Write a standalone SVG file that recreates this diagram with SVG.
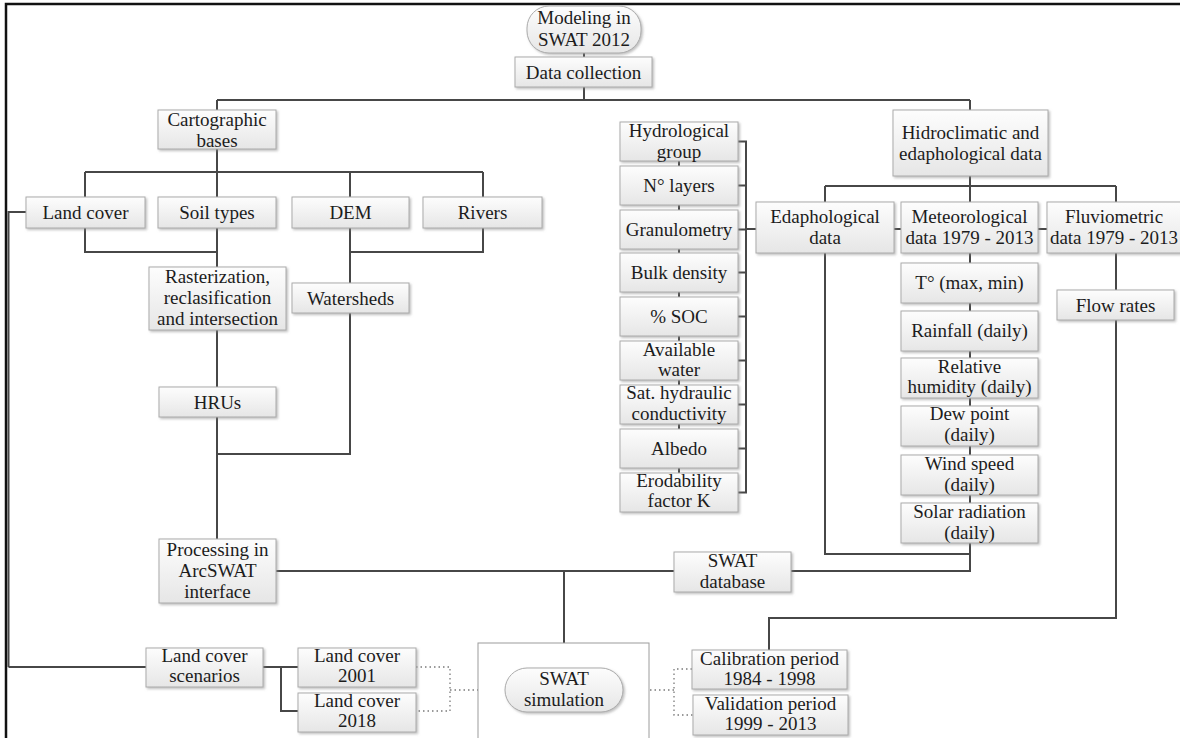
<svg xmlns="http://www.w3.org/2000/svg" width="1180" height="738" viewBox="0 0 1180 738">
<defs>
<linearGradient id="g" x1="0" y1="0" x2="0" y2="1">
<stop offset="0" stop-color="#fdfdfd"/>
<stop offset="1" stop-color="#e6e6e6"/>
</linearGradient>
<filter id="sh" x="-10%" y="-10%" width="130%" height="140%">
<feDropShadow dx="1.5" dy="1.5" stdDeviation="1" flood-color="#8a8a8a" flood-opacity="0.55"/>
</filter>
<style>
.box{fill:url(#g);stroke:#ababab;stroke-width:1;filter:url(#sh)}
.t{font-family:"Liberation Serif","Times New Roman",serif;font-size:19px;fill:#1c1c1c;text-anchor:middle}
.ln{stroke:#474747;stroke-width:2;fill:none}
.dot{stroke:#7a7a7a;stroke-width:1.3;stroke-dasharray:1.5 3;fill:none}
.frame{stroke:#111;stroke-width:2.5;fill:none}
</style>
</defs>
<rect x="0" y="0" width="1180" height="738" fill="#ffffff"/>
<rect class="frame" x="6" y="4" width="1190" height="760"/>

<g id="connectors">
<path class="ln" d="M584 53V57 M584 87V100 M217 100H970 M217 100V110 M970 100V110"/>
<path class="ln" d="M217 149V172 M85 172H483 M85 172V197 M217 172V197 M350 172V197 M483 172V197"/>
<path class="ln" d="M85 228V252H217 M217 228V267 M350 228V283 M483 228V252H350"/>
<path class="ln" d="M217 330V387 M217 417V539 M350 313V454H217"/>
<path class="ln" d="M276 571H674 M791 571H970V543 M564 571V643"/>
<path class="ln" d="M825 253V554H970"/>
<path class="ln" d="M970 176V186 M825 186H1116 M825 186V202 M970 186V202 M1116 186V202"/>
<path class="ln" d="M970 253V263 M970 303V311 M970 351V358 M970 398V406 M970 446V455 M970 495V503"/>
<path class="ln" d="M1116 253V290 M1116 320V618H769V650"/>
<path class="ln" d="M679 161V166 M679 205V210 M679 249V253 M679 292V297 M679 336V341 M679 380V385 M679 424V429 M679 468V473"/>
<path class="ln" d="M738 141.5H746V492.5H738 M738 185.5H746 M738 229.5H746 M738 272.5H746 M738 316.5H746 M738 360.5H746 M738 404.5H746 M738 448.5H746"/>
<path class="ln" d="M746 229H756 M894 229H901 M1038 229H1047"/>
<path class="ln" d="M8.5 667V212H26 M8.5 667H146"/>
<path class="ln" d="M263 667H298 M281 667V711H298"/>
<path class="dot" d="M416 667H450V711H416 M450 690H478"/>
<path class="dot" d="M623 690H674 M692 669H674V715H693"/>
</g>

<g id="modeling"><rect class="box" x="527" y="6" width="114" height="47" rx="22"/><text class="t" x="584" y="23.5">Modeling in<tspan x="584" dy="22">SWAT 2012</tspan></text></g>
<g id="data-collection"><rect class="box" x="515" y="57" width="137" height="30"/><text class="t" x="583.5" y="78.5">Data collection</text></g>
<g id="cartographic"><rect class="box" x="158" y="110" width="118" height="39"/><text class="t" x="217" y="125.5">Cartographic<tspan x="217" dy="21">bases</tspan></text></g>
<g id="hidroclimatic"><rect class="box" x="893" y="110" width="155" height="66"/><text class="t" x="970.5" y="138.5">Hidroclimatic and<tspan x="970.5" dy="21.5">edaphological data</tspan></text></g>

<g id="land-cover"><rect class="box" x="26" y="197" width="119" height="31"/><text class="t" x="85.5" y="219">Land cover</text></g>
<g id="soil-types"><rect class="box" x="158" y="197" width="118" height="31"/><text class="t" x="217" y="219">Soil types</text></g>
<g id="dem"><rect class="box" x="292" y="197" width="117" height="31"/><text class="t" x="350.5" y="219">DEM</text></g>
<g id="rivers"><rect class="box" x="423" y="197" width="119" height="31"/><text class="t" x="482.5" y="219">Rivers</text></g>

<g id="rasterization"><rect class="box" x="149" y="267" width="137" height="63"/><text class="t" x="217.5" y="283">Rasterization,<tspan x="217.5" dy="21">reclasification</tspan><tspan x="217.5" dy="21">and intersection</tspan></text></g>
<g id="watersheds"><rect class="box" x="292" y="283" width="117" height="30"/><text class="t" x="350.5" y="304.5">Watersheds</text></g>
<g id="hrus"><rect class="box" x="159" y="387" width="117" height="30"/><text class="t" x="217.5" y="408.5">HRUs</text></g>
<g id="processing"><rect class="box" x="159" y="539" width="117" height="64"/><text class="t" x="217.5" y="556">Processing in<tspan x="217.5" dy="21">ArcSWAT</tspan><tspan x="217.5" dy="21">interface</tspan></text></g>
<g id="swat-database"><rect class="box" x="674" y="552" width="117" height="40"/><text class="t" x="732.5" y="567">SWAT<tspan x="732.5" dy="21">database</tspan></text></g>

<g id="edaphological"><rect class="box" x="756" y="202" width="138" height="51"/><text class="t" x="825" y="223">Edaphological<tspan x="825" dy="21">data</tspan></text></g>
<g id="meteorological"><rect class="box" x="901" y="202" width="137" height="51"/><text class="t" x="969.5" y="223">Meteorological<tspan x="969.5" dy="21">data 1979 - 2013</tspan></text></g>
<g id="fluviometric"><rect class="box" x="1047" y="202" width="136" height="51"/><text class="t" x="1114" y="223">Fluviometric<tspan x="1114" dy="21">data 1979 - 2013</tspan></text></g>
<g id="flow-rates"><rect class="box" x="1057" y="290" width="117" height="30"/><text class="t" x="1115.5" y="311.5">Flow rates</text></g>

<g id="hydrological-group"><rect class="box" x="620" y="122" width="118" height="39"/><text class="t" x="679" y="137">Hydrological<tspan x="679" dy="20.5">group</tspan></text></g>
<g id="n-layers"><rect class="box" x="620" y="166" width="118" height="39"/><text class="t" x="679" y="191.5">N° layers</text></g>
<g id="granulometry"><rect class="box" x="620" y="210" width="118" height="39"/><text class="t" x="679" y="235.5">Granulometry</text></g>
<g id="bulk-density"><rect class="box" x="620" y="253" width="118" height="39"/><text class="t" x="679" y="278.5">Bulk density</text></g>
<g id="soc"><rect class="box" x="620" y="297" width="118" height="39"/><text class="t" x="679" y="322.5">% SOC</text></g>
<g id="available-water"><rect class="box" x="620" y="341" width="118" height="39"/><text class="t" x="679" y="355.5">Available<tspan x="679" dy="20.5">water</tspan></text></g>
<g id="sat-hydraulic"><rect class="box" x="620" y="385" width="118" height="39"/><text class="t" x="679" y="399">Sat. hydraulic<tspan x="679" dy="20.5">conductivity</tspan></text></g>
<g id="albedo"><rect class="box" x="620" y="429" width="118" height="39"/><text class="t" x="679" y="454.5">Albedo</text></g>
<g id="erodability"><rect class="box" x="620" y="473" width="118" height="39"/><text class="t" x="679" y="487">Erodability<tspan x="679" dy="20">factor K</tspan></text></g>

<g id="temperature"><rect class="box" x="901" y="263" width="137" height="40"/><text class="t" x="969.5" y="289">T° (max, min)</text></g>
<g id="rainfall"><rect class="box" x="901" y="311" width="137" height="40"/><text class="t" x="969.5" y="337">Rainfall (daily)</text></g>
<g id="humidity"><rect class="box" x="901" y="358" width="137" height="40"/><text class="t" x="969.5" y="372.5">Relative<tspan x="969.5" dy="20.5">humidity (daily)</tspan></text></g>
<g id="dew-point"><rect class="box" x="901" y="406" width="137" height="40"/><text class="t" x="969.5" y="420">Dew point<tspan x="969.5" dy="21">(daily)</tspan></text></g>
<g id="wind-speed"><rect class="box" x="901" y="455" width="137" height="40"/><text class="t" x="969.5" y="470">Wind speed<tspan x="969.5" dy="20.5">(daily)</tspan></text></g>
<g id="solar-radiation"><rect class="box" x="901" y="503" width="137" height="40"/><text class="t" x="969.5" y="518">Solar radiation<tspan x="969.5" dy="21">(daily)</tspan></text></g>

<g id="swat-simulation"><rect x="478" y="643" width="171" height="100" fill="#ffffff" stroke="#9c9c9c" stroke-width="1"/><rect class="box" x="505" y="668" width="118" height="44" rx="22"/><text class="t" x="564" y="684.5">SWAT<tspan x="564" dy="21">simulation</tspan></text></g>

<g id="land-cover-scenarios"><rect class="box" x="146" y="648" width="117" height="39"/><text class="t" x="204.5" y="662">Land cover<tspan x="204.5" dy="20">scenarios</tspan></text></g>
<g id="land-cover-2001"><rect class="box" x="298" y="648" width="118" height="39"/><text class="t" x="357" y="662">Land cover<tspan x="357" dy="20">2001</tspan></text></g>
<g id="land-cover-2018"><rect class="box" x="298" y="693" width="118" height="39"/><text class="t" x="357" y="707">Land cover<tspan x="357" dy="20">2018</tspan></text></g>
<g id="calibration"><rect class="box" x="692" y="650" width="155" height="39"/><text class="t" x="769.5" y="665">Calibration period<tspan x="769.5" dy="19.5">1984 - 1998</tspan></text></g>
<g id="validation"><rect class="box" x="693" y="695" width="155" height="40"/><text class="t" x="770.5" y="709.5">Validation period<tspan x="770.5" dy="20">1999 - 2013</tspan></text></g>
</svg>
